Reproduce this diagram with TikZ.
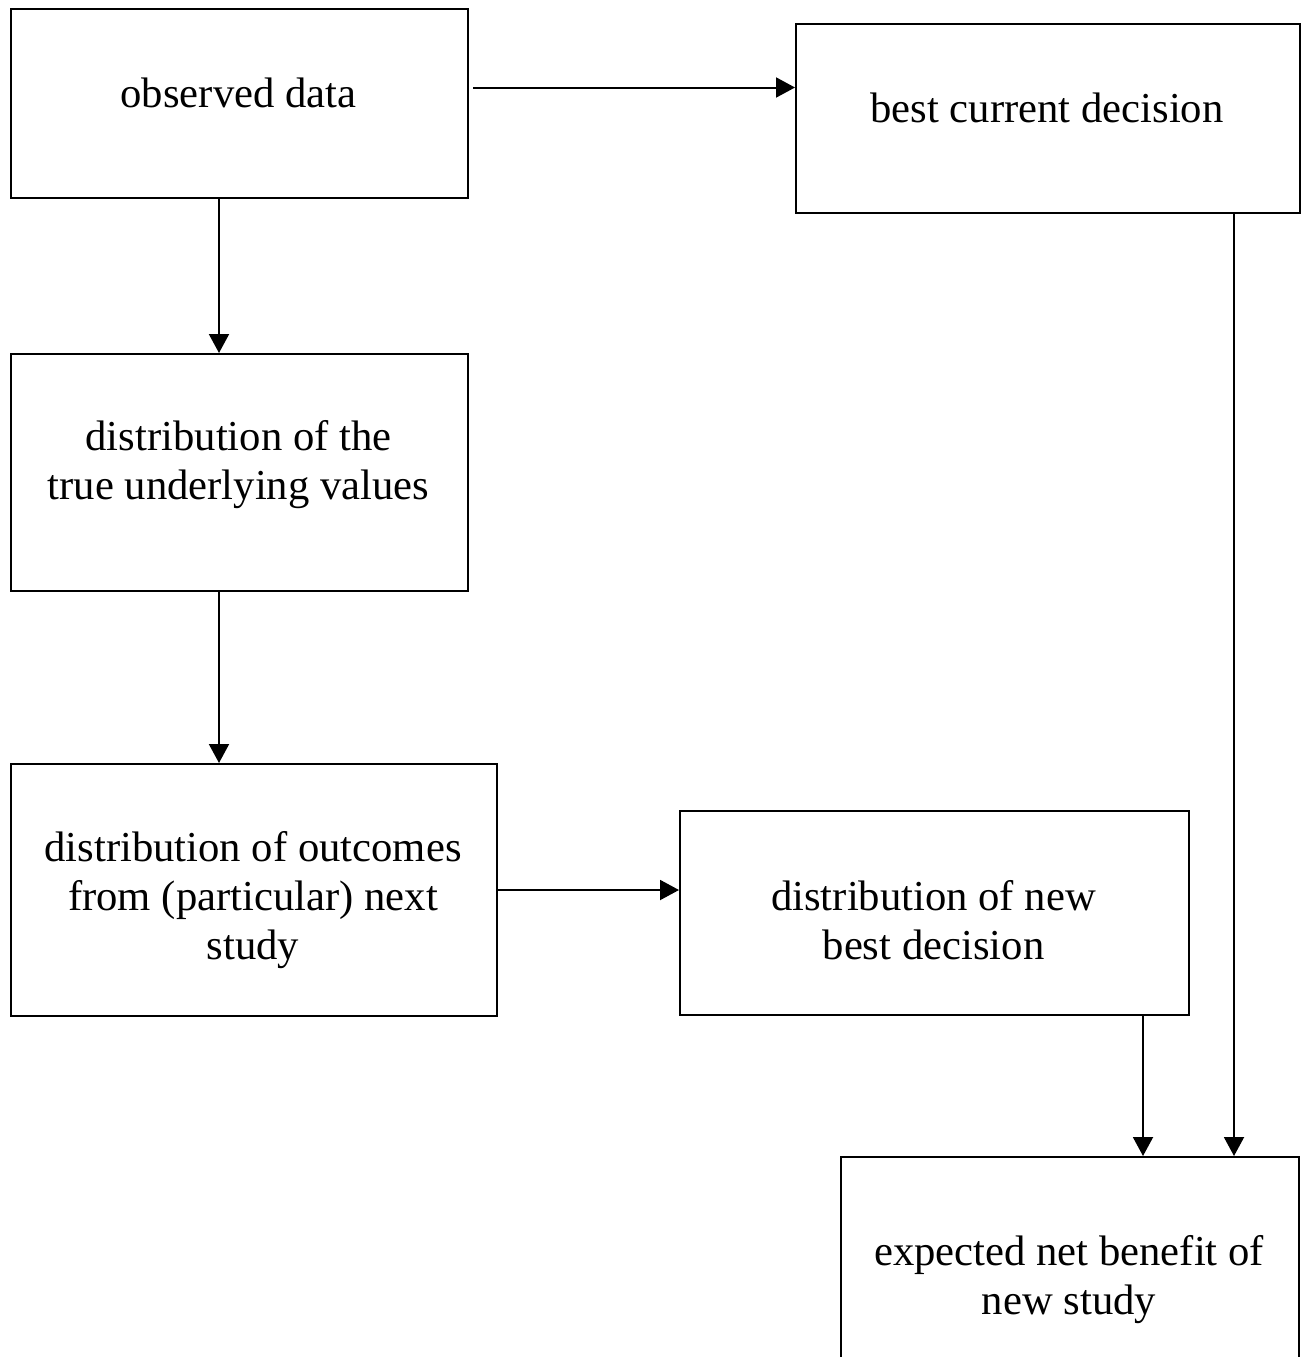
\documentclass[tikz,border=0pt]{standalone}
\usepackage{fontspec}
\setmainfont{Liberation Serif}
\usetikzlibrary{arrows.meta}
\newcommand{\lbfont}{\fontsize{42.67pt}{49.07pt}\selectfont}
\tikzset{
  box/.style={draw, line width=2pt, inner sep=0pt, anchor=north west},
  lbl/.style={font=\lbfont, align=flush center, text width=#1, anchor=base, inner sep=0pt},
  arr/.style={line width=2pt, -{Triangle[length=19pt,width=20pt]}}
}
\begin{document}
\begin{tikzpicture}[x=1pt, y=-1pt]
\useasboundingbox (0,0) rectangle (1306,1357);
\fill[white] (0,0) rectangle (1306,1357);
% boxes
\node[box, minimum width=457pt, minimum height=189pt] (b1) at (10,8) {};
\node[box, minimum width=504pt, minimum height=189pt] (b2) at (795,23) {};
\node[box, minimum width=457pt, minimum height=237pt] (b3) at (10,353) {};
\node[box, minimum width=486pt, minimum height=252pt] (b4) at (10,763) {};
\node[box, minimum width=509pt, minimum height=204pt] (b5) at (679,810) {};
\node[box, minimum width=458pt, minimum height=240pt] (b6) at (840,1156) {};
% texts
\node[lbl=440pt] (t1) at (238.5,107) {observed data};
\node[lbl=480pt] (t2) at (1047,122) {best current decision};
\node[lbl=440pt] (t3) at (238.5,450) {distribution of the\\true underlying values};
\node[lbl=470pt] (t4) at (253,861) {distribution of outcomes\\from (particular) next\\study};
\node[lbl=490pt] (t5) at (933.5,910) {distribution of new\\best decision};
\node[lbl=440pt] (t6) at (1069,1265) {expected net benefit of\\new study};
% connectors
\draw[arr] ([xshift=4pt,yshift=16pt]b1.east) -- ([yshift=16pt]b1.east -| b2.west);
\draw[arr] ([xshift=-20.5pt]b1.south) -- ([xshift=-20.5pt]b1.south |- b3.north);
\draw[arr] ([xshift=-20.5pt]b3.south) -- ([xshift=-20.5pt]b3.south |- b4.north);
\draw[arr] (b4.east) -- (b4.east -| b5.west);
\draw[arr] ([xshift=208.5pt]b5.south) -- ([xshift=208.5pt]b5.south |- b6.north);
\draw[arr] ([xshift=186pt]b2.south) -- ([xshift=186pt]b2.south |- b6.north);
\end{tikzpicture}
\end{document}
